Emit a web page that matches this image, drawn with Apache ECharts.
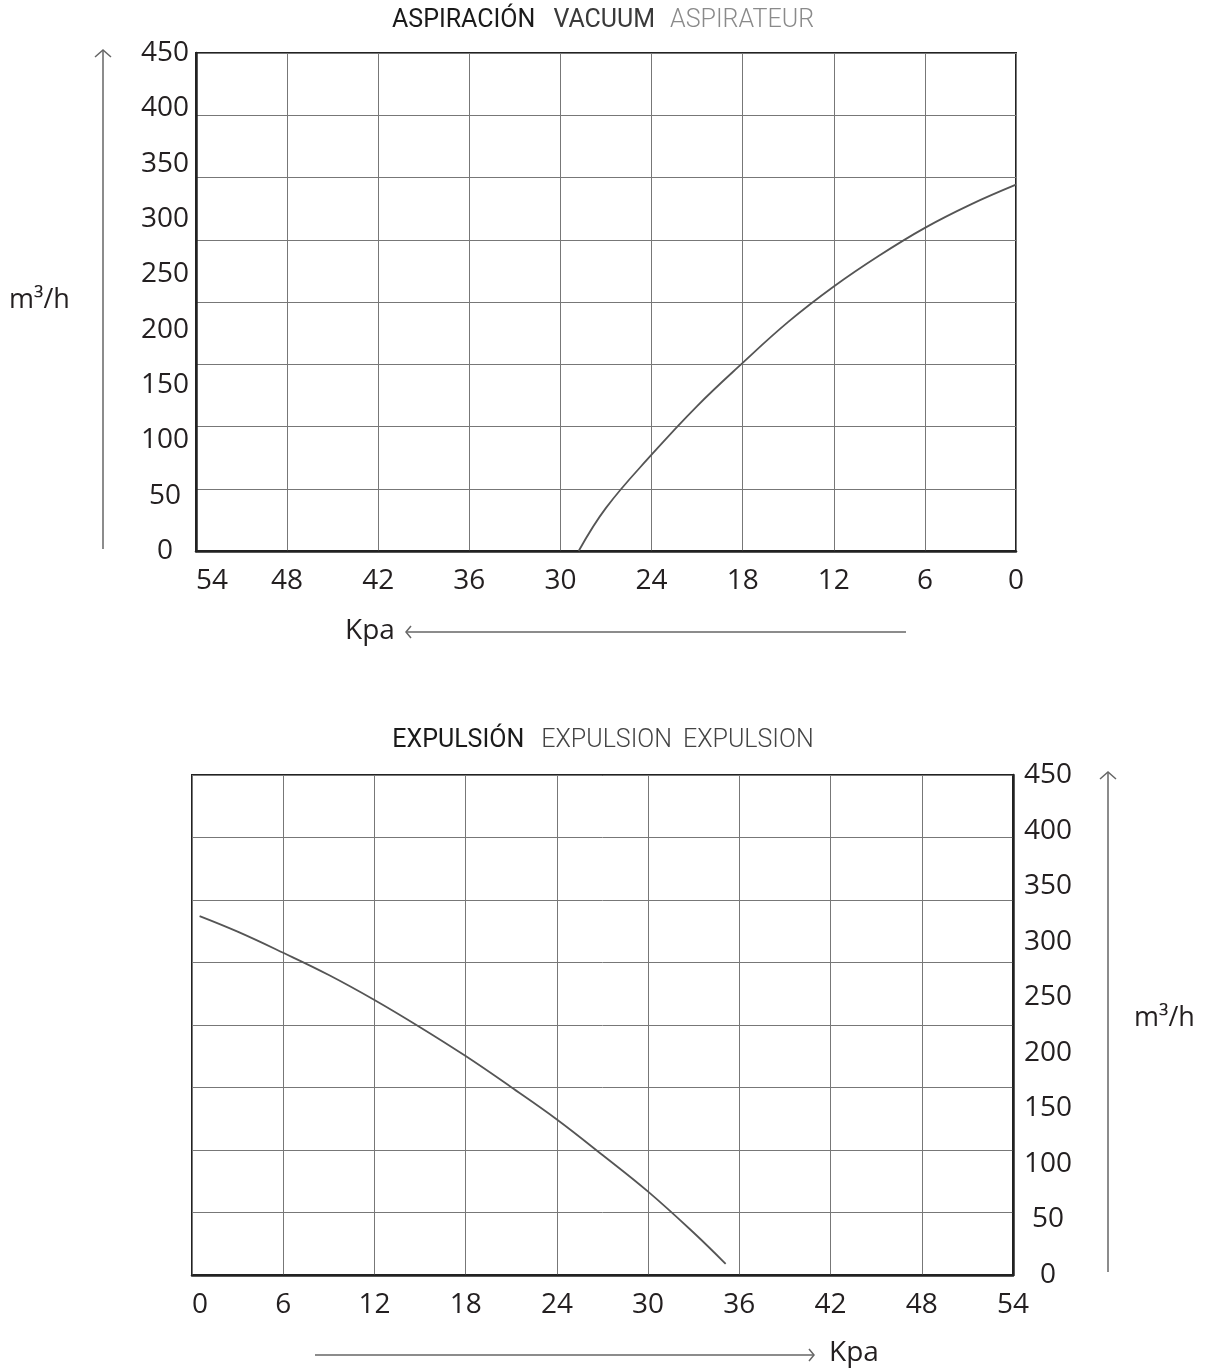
<!DOCTYPE html>
<html>
<head>
<meta charset="utf-8">
<script src="https://cdn.jsdelivr.net/npm/echarts@6/dist/echarts.min.js"></script>
<style>
html,body{margin:0;padding:0;background:#fff;}
#c{width:1206px;height:1371px;}
</style>
</head>
<body>
<div id="c"></div>
<script>
// ---- data ----
const kpaTicks = [0, 6, 12, 18, 24, 30, 36, 42, 48, 54];
const flowTicks = [0, 50, 100, 150, 200, 250, 300, 350, 400, 450];

const vacuumKpa  = [0, 3, 6, 9, 12, 15, 18, 21, 24, 27, 28.8];
const vacuumFlow = [331, 313, 292, 267, 239, 207, 170, 131, 87, 39, 0];

const expulsionKpa  = [0.5, 3, 6, 9, 12, 15, 18, 21, 24, 27, 30, 33, 35.1];
const expulsionFlow = [323, 309, 290, 270, 247.5, 223, 197, 169, 140, 108, 75, 38, 10];

const titleTop = ['ASPIRACIÓN', 'VACUUM', 'ASPIRATEUR'];
const titleBottom = ['EXPULSIÓN', 'EXPULSION', 'EXPULSION'];
const flowUnit = 'm³/h';
const pressureUnit = 'Kpa';

// ---- chart ----
const gridRows = 8;
const chart = echarts.init(document.getElementById('c'), null, {renderer: 'canvas'});

const zip = (xs, ys) => xs.map((x, i) => [x, ys[i]]);
const kMin = kpaTicks[0], kMax = kpaTicks[kpaTicks.length - 1], kStep = kpaTicks[1] - kpaTicks[0];
const fMin = flowTicks[0], fMax = flowTicks[flowTicks.length - 1], fStep = flowTicks[1] - flowTicks[0];

const labelFont = {fontSize: 28, fontFamily: 'Open Sans', color: '#231f20'};
const gridLine = {show: true, lineStyle: {color: '#777', width: 1}};
const axisLineStyle = {show: true, onZero: false, lineStyle: {color: '#222', width: 2.5}};

function xAxis(gridIndex, inverse) {
  return {
    gridIndex, type: 'value', min: kMin, max: kMax, interval: kStep, inverse,
    position: 'bottom',
    axisLine: axisLineStyle, axisTick: {show: false}, splitLine: gridLine,
    axisLabel: Object.assign({margin: 16, alignMinLabel: inverse ? 'center' : 'left',
      alignMaxLabel: inverse ? 'left' : 'center'}, labelFont)
  };
}
function yAxisLabeled(gridIndex, position, margin) {
  return {
    gridIndex, type: 'value', min: fMin, max: fMax, interval: fStep, position,
    axisLine: axisLineStyle, axisTick: {show: false}, splitLine: {show: false},
    axisLabel: Object.assign({margin, align: 'center'}, labelFont)
  };
}
function yAxisRows(gridIndex, position) {
  return {
    gridIndex, type: 'value', min: 0, max: gridRows, interval: 1, position,
    axisLine: {show: false}, axisTick: {show: false}, axisLabel: {show: false},
    splitLine: gridLine
  };
}

function titleText(parts) {
  return '{a|' + parts[0] + '}{b|' + parts[1] + '}{c|' + parts[2] + '}';
}

const arrowStyle = {stroke: '#666', lineWidth: 1.5, fill: null};
function pl(points) { return {type: 'polyline', silent: true, shape: {points}, style: arrowStyle}; }
function txt(x, y, text, size) {
  return {type: 'text', x, y, silent: true,
    style: {text, font: size + 'px "Open Sans"', fill: '#231f20', align: 'left', verticalAlign: 'middle'}};
}

const TF = 25;
const option = {
  animation: false,
  backgroundColor: '#fff',
  title: [
    {left: 'center', top: 8, padding: 0, text: titleText(titleTop),
     textStyle: {rich: {
       a: {fontFamily: 'Roboto', fontSize: TF, color: '#1a1a1a', fontWeight: 400},
       b: {fontFamily: 'Roboto', fontSize: TF, color: '#3a3a3a', fontWeight: 400, padding: [0, 0, 0, 18]},
       c: {fontFamily: 'Roboto', fontSize: TF, color: '#8a8a8a', fontWeight: 300, padding: [0, 0, 0, 15]}
     }}},
    {left: 'center', top: 728, padding: 0, text: titleText(titleBottom),
     textStyle: {rich: {
       a: {fontFamily: 'Roboto', fontSize: TF, color: '#1a1a1a', fontWeight: 400},
       b: {fontFamily: 'Roboto', fontSize: TF, color: '#444', fontWeight: 300, padding: [0, 0, 0, 17]},
       c: {fontFamily: 'Roboto', fontSize: TF, color: '#444', fontWeight: 300, padding: [0, 0, 0, 11]}
     }}}
  ],
  grid: [
    {left: 196, top: 53, width: 820, height: 498, show: true, borderColor: '#222', borderWidth: 2,
     containLabel: false, outerBoundsMode: 'none'},
    {left: 192, top: 775, width: 821, height: 500, show: true, borderColor: '#222', borderWidth: 2,
     containLabel: false, outerBoundsMode: 'none'}
  ],
  xAxis: [xAxis(0, true), xAxis(1, false)],
  yAxis: [
    yAxisLabeled(0, 'left', 31),
    yAxisRows(0, 'right'),
    yAxisLabeled(1, 'right', 35),
    yAxisRows(1, 'left')
  ],
  series: [
    {type: 'line', xAxisIndex: 0, yAxisIndex: 0, data: zip(vacuumKpa, vacuumFlow),
     smooth: 0.4, symbol: 'none', silent: true, lineStyle: {color: '#555', width: 1.8}},
    {type: 'line', xAxisIndex: 1, yAxisIndex: 2, data: zip(expulsionKpa, expulsionFlow),
     smooth: 0.4, symbol: 'none', silent: true, lineStyle: {color: '#555', width: 1.8}}
  ],
  graphic: [
    // top chart arrows
    pl([[103, 549], [103, 50]]),
    pl([[95, 57], [103, 50], [111, 57]]),
    pl([[406, 632], [906, 632]]),
    pl([[411, 626], [406, 632], [411, 638]]),
    // bottom chart arrows
    pl([[1108, 1272], [1108, 772]]),
    pl([[1100, 779], [1108, 772], [1116, 779]]),
    pl([[315, 1355], [814, 1355]]),
    pl([[809, 1349], [814, 1355], [809, 1361]]),
    // unit labels
    txt(9, 300, flowUnit, 27),
    txt(1134, 1018, flowUnit, 27),
    txt(345, 631, pressureUnit, 28),
    txt(829, 1353, pressureUnit, 28)
  ]
};
chart.setOption(option);
</script>
</body>
</html>
